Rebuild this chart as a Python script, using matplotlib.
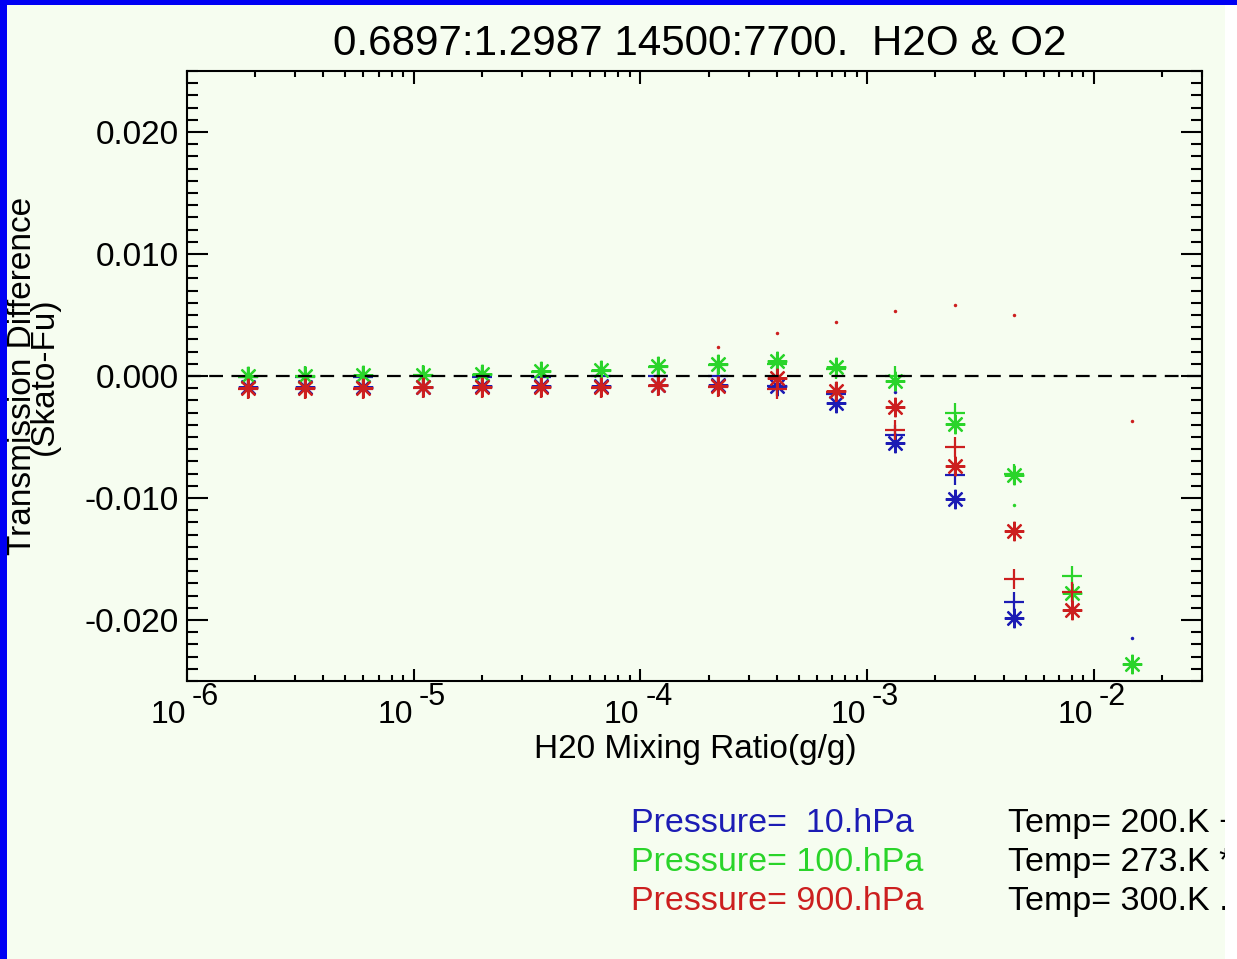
import matplotlib
matplotlib.use("Agg")
import matplotlib.pyplot as plt
from matplotlib.ticker import LogLocator, MultipleLocator, FormatStrFormatter, NullFormatter
from matplotlib.transforms import blended_transform_factory, offset_copy
from matplotlib.patches import Rectangle
import numpy as np

plt.rcParams['font.family'] = ['Liberation Sans', 'DejaVu Sans']
plt.rcParams['axes.unicode_minus'] = False

nan = np.nan

# H2O mixing ratio (g/g)
mixing = [1.85e-6, 3.31e-6, 6.0e-6, 1.10e-5, 2.01e-5, 3.66e-5, 6.71e-5, 1.20e-4,
          2.20e-4, 4.0e-4, 7.3e-4, 1.33e-3, 2.44e-3, 4.44e-3, 8.05e-3, 1.48e-2]

# transmission difference (Skato - Fu), one list per pressure / temperature
p10_t200 = [-0.0001, -0.0001, -0.0001, 0.0000, -0.0001, -0.0001, 0.0000, 0.0000,
            0.0000, -0.0008, -0.0015, -0.0048, -0.0081, -0.0185, nan, nan]
p10_t273 = [-0.0009, -0.0009, -0.0009, -0.0009, -0.0008, -0.0008, -0.0008, -0.0007,
            -0.0007, -0.0008, -0.0022, -0.0055, -0.0101, -0.0198, nan, nan]
p10_t300 = [nan, nan, nan, nan, nan, nan, nan, nan,
            nan, nan, nan, -0.0013, nan, nan, nan, -0.0215]

p100_t200 = [-0.0001, 0.0000, 0.0000, 0.0001, 0.0001, 0.0003, 0.0004, 0.0007,
             0.0009, 0.0010, 0.0006, 0.0000, -0.0030, -0.0080, -0.0164, nan]
p100_t273 = [0.0000, 0.0000, 0.0001, 0.0001, 0.0002, 0.0004, 0.0005, 0.0008,
             0.0010, 0.0012, 0.0007, -0.0004, -0.0039, -0.0081, -0.0178, -0.0236]
p100_t300 = [nan, nan, nan, nan, nan, nan, nan, nan,
             nan, nan, nan, nan, nan, -0.0106, nan, nan]

p900_t200 = [-0.0011, -0.0011, -0.0011, -0.0010, -0.0010, -0.0010, -0.0010, -0.0008,
             -0.0009, -0.0011, -0.0013, -0.0044, -0.0058, -0.0166, -0.0177, nan]
p900_t273 = [-0.0010, -0.0010, -0.0010, -0.0009, -0.0009, -0.0009, -0.0009, -0.0007,
             -0.0008, -0.0002, -0.0012, -0.0025, -0.0074, -0.0127, -0.0192, nan]
p900_t300 = [nan, nan, nan, nan, nan, nan, nan, nan,
             0.0024, 0.0035, 0.0044, 0.0053, 0.0058, 0.0050, nan, -0.0037]

pressures = ["Pressure=  10.hPa", "Pressure= 100.hPa", "Pressure= 900.hPa"]
temps = ["Temp= 200.K +", "Temp= 273.K *", "Temp= 300.K ."]

blue = "#1c1cb4"
green = "#2ad42a"
red = "#cc1f1f"
bg = "#f6fdf0"

fig = plt.figure(figsize=(12.37, 9.59), dpi=100, facecolor=bg)
ax = fig.add_axes([187/1237, 1-681/959, (1202-187)/1237, (681-71)/959])
ax.set_facecolor(bg)

star = (8, 2, 0)
for col, d200, d273, d300 in [(blue, p10_t200, p10_t273, p10_t300),
                              (green, p100_t200, p100_t273, p100_t300),
                              (red, p900_t200, p900_t273, p900_t300)]:
    ax.plot(mixing, d200, ls='none', marker='+', ms=14, mew=1.6, color=col)
    ax.plot(mixing, d273, ls='none', marker=star, ms=14, mew=1.6, color=col)
    ax.plot(mixing, d300, ls='none', marker='o', ms=2.5, mew=0, color=col)

ax.axhline(0, color='black', lw=1.6, dashes=(6.2, 3.8))

ax.set_xscale('log')
ax.set_xlim(1e-6, 0.03)
ax.set_ylim(-0.025, 0.025)

ax.yaxis.set_major_locator(MultipleLocator(0.01))
ax.yaxis.set_minor_locator(MultipleLocator(0.001))
ax.yaxis.set_major_formatter(FormatStrFormatter('%.3f'))
ax.xaxis.set_major_locator(LogLocator(base=10))
ax.xaxis.set_minor_locator(LogLocator(base=10, subs=np.arange(2, 10)))
ax.xaxis.set_minor_formatter(NullFormatter())

ax.tick_params(which='both', direction='in', top=True, right=True, width=1.5,
               labelbottom=False, labelsize=24, pad=6)
ax.tick_params(axis='y', which='major', length=15)
ax.tick_params(axis='y', which='minor', length=8)
ax.tick_params(axis='x', which='major', length=9)
ax.tick_params(axis='x', which='minor', length=4.5)
for s in ax.spines.values():
    s.set_linewidth(1.5)

# decade labels drawn as "10" with a full-size exponent
trans = blended_transform_factory(ax.transData, ax.transAxes)
for k in range(-6, -1):
    ax.text(10.0**k, 0, "10", size=23, ha='right', va='baseline',
            transform=offset_copy(trans, fig, x=-0.7, y=-30.2, units='points'))
    ax.text(10.0**k, 0, "-%d" % abs(k), size=22, ha='left', va='baseline',
            transform=offset_copy(trans, fig, x=3.5, y=-17.3, units='points'))

fig.text(695/1237, 1-758/959, "H20 Mixing Ratio(g/g)", size=24, ha='center', va='baseline')
fig.text(33/1237, 1-376/959, "Transmission Difference\n(Skato-Fu)", size=24, rotation=90,
         ha='center', va='center', multialignment='center', linespacing=0.62)

fig.text(700/1237, 1-55/959, "0.6897:1.2987 14500:7700.  H2O & O2", size=30.3,
         ha='center', va='baseline')

for label, col, ybase in zip(pressures, [blue, green, red], [832, 871, 910]):
    fig.text(631/1237, 1-ybase/959, label, size=24.5, color=col, va='baseline')
for label, ybase in zip(temps, [832, 871, 910]):
    fig.text(1008/1237, 1-ybase/959, label, size=24.5, color='black', va='baseline')

# window frame: blue edges on left/top, blank strip on the right
fig.patches.append(Rectangle((1225/1237, 0), 12/1237, 1, transform=fig.transFigure,
                             facecolor='white', edgecolor='none', zorder=10))
fig.patches.append(Rectangle((0, 0), 7/1237, 1, transform=fig.transFigure,
                             facecolor='#0000f4', edgecolor='none', zorder=11))
fig.patches.append(Rectangle((0, 1-5/959), 1, 5/959, transform=fig.transFigure,
                             facecolor='#0000f4', edgecolor='none', zorder=11))

fig.savefig("out.png", dpi=100, facecolor=bg)
